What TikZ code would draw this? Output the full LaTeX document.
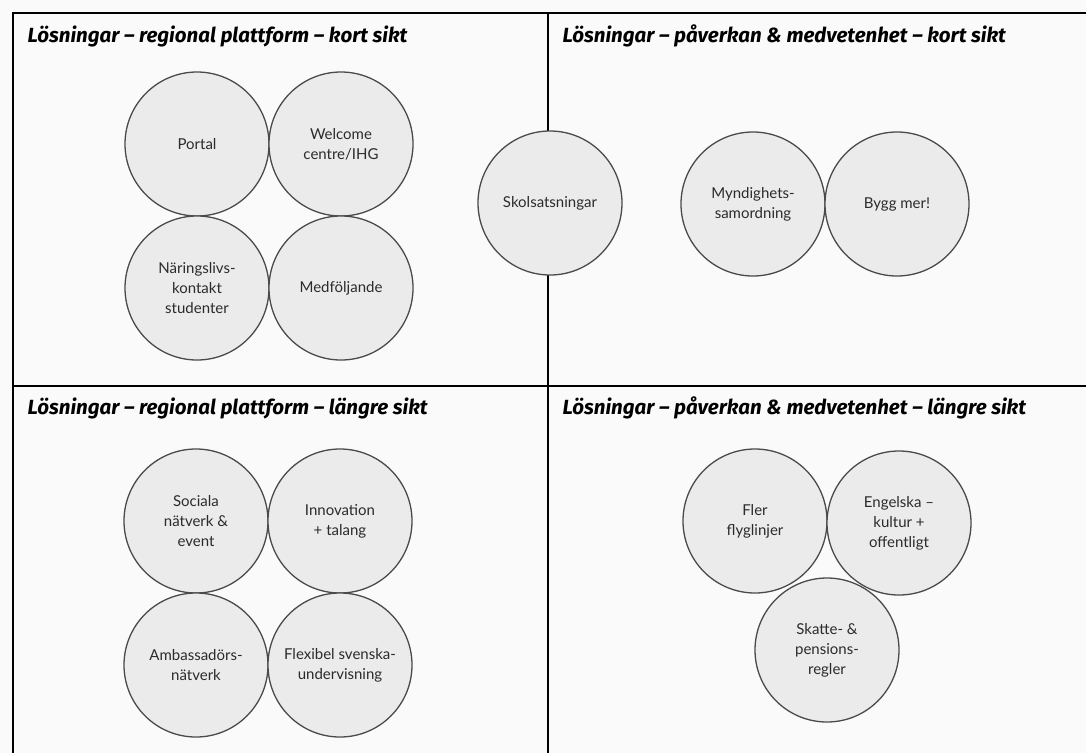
\documentclass[tikz,border=0pt]{standalone}
\usepackage{fontspec}
\setmainfont{Lato}
\newfontfamily\headfont{Fira Sans}
\definecolor{paper}{HTML}{FAFAFA}
\definecolor{bubblefill}{HTML}{EBEBEB}
\definecolor{bubbleline}{HTML}{4A4A4A}
\definecolor{bubbletext}{HTML}{2B2B2B}

\begin{document}
\begin{tikzpicture}[x=1pt,y=-1pt,
  bubble/.style={circle,draw=bubbleline,line width=1.3pt,fill=bubblefill,minimum size=144pt,
    inner sep=0pt,align=center,text=bubbletext,font=\fontsize{15}{20}\selectfont},
  heading/.style={anchor=west,font=\headfont\bfseries\itshape\fontsize{20.5}{24}\selectfont}]
\fill[paper] (0,0) rectangle (1086,753);
\useasboundingbox (0,0) rectangle (1086,753);
\draw[line width=2pt] (1086,13) -- (13,13) -- (13,753);
\draw[line width=2pt] (13,386) -- (1086,386);
\draw[line width=2pt] (548,13) -- (548,753);

\node[heading] (headtl) at (24,36) {Lösningar – regional plattform – kort sikt};
\node[heading] (headtr) at (559,36) {Lösningar – påverkan \& medvetenhet – kort sikt};
\node[heading] (headbl) at (24,408) {Lösningar – regional plattform – längre sikt};
\node[heading] (headbr) at (559,408) {Lösningar – påverkan \& medvetenhet – längre sikt};

\node[bubble] (portal) at (197,144) {Portal};
\node[bubble] (welcome) at (341,144) {Welcome\\centre/IHG};
\node[bubble] (naringsliv) at (197,288) {Näringslivs-\\kontakt\\studenter};
\node[bubble] (medfoljande) at (341,288) {Medföljande};
\node[bubble] (skola) at (550,203) {Skolsatsningar};
\node[bubble] (myndighet) at (753,204) {Myndighets-\\samordning};
\node[bubble] (bygg) at (897,204) {Bygg mer!};

\node[bubble] (sociala) at (196,521) {Sociala\\nätverk \&\\event};
\node[bubble] (innovation) at (340,521) {Innovation\\+ talang};
\node[bubble] (ambassador) at (196,665) {Ambassadörs-\\nätverk};
\node[bubble] (svenska) at (340,665) {Flexibel svenska-\\undervisning};
\node[bubble] (flyg) at (755,521) {Fler\\flyglinjer};
\node[bubble] (engelska) at (899,523) {Engelska –\\kultur +\\offentligt};
\node[bubble] (skatt) at (827,650) {Skatte- \&\\pensions-\\regler};
\end{tikzpicture}
\end{document}
